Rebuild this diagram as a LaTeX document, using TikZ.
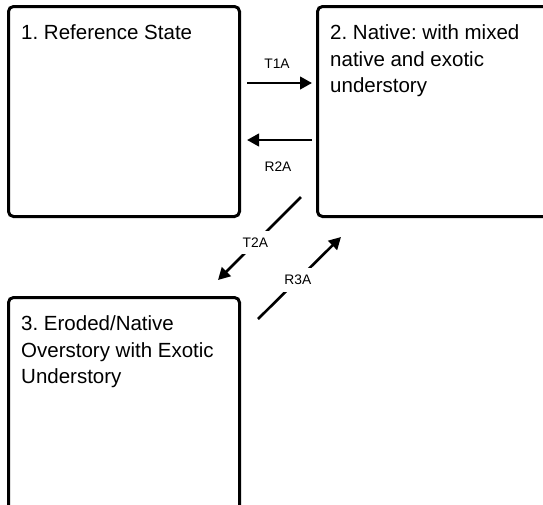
\documentclass[tikz,border=0pt]{standalone}
\usepackage{fontspec}
\setmainfont{Liberation Sans}
\usetikzlibrary{arrows.meta}
\frenchspacing
\begin{document}
\begin{tikzpicture}[x=1pt,y=-1pt,
  statebox/.style={draw=black,line width=3pt,rounded corners=5pt,fill=white,anchor=north west,inner sep=0pt},
  statetext/.style={anchor=north west,align=left,inner sep=0pt,font=\fontsize{20.5}{26.5}\selectfont},
  arr/.style={line width=2.6pt,-{Triangle[length=12pt,width=12.5pt]}},
  lbl/.style={font=\fontsize{13.8}{16}\selectfont,inner sep=0pt},
  gaplbl/.style={lbl,fill=white,inner xsep=4pt,inner ysep=7pt}]
\clip (0,0) rectangle (543,504);
\fill[white] (0,0) rectangle (543,504);
\node[statebox,minimum width=231pt,minimum height=210pt] (s1) at (7,5) {};
\node[statebox,minimum width=236pt,minimum height=210pt] (s2) at (316,5) {};
\node[statebox,minimum width=231pt,minimum height=216pt] (s3) at (7,296) {};
\node[statetext] (t1) at ([xshift=14pt,yshift=-19.5pt]s1.north west) {1. Reference State};
\node[statetext] (t2) at ([xshift=14pt,yshift=-19.5pt]s2.north west) {2. Native: with mixed\\native and exotic\\understory};
\node[statetext] (t3) at ([xshift=14pt,yshift=-19.5pt]s3.north west) {3. Eroded/Native\\Overstory with Exotic\\Understory};
\draw[arr] ([xshift=6pt,yshift=-78pt]s1.north east) -- ([xshift=-4pt,yshift=-78pt]s2.north west);
\node[lbl] (l1) at (277,64) {T1A};
\draw[arr] ([xshift=-4pt,yshift=-135pt]s2.north west) -- ([xshift=6pt,yshift=-135pt]s1.north east);
\node[lbl] (l2) at (278,167) {R2A};
\draw[arr] ([xshift=-15pt,yshift=21pt]s2.south west) -- node[gaplbl,pos=0.55] (l3) {T2A} ([xshift=-23pt,yshift=16pt]s3.north east);
\draw[arr] ([xshift=17pt,yshift=-23pt]s3.north east) -- node[gaplbl,pos=0.48] (l4) {R3A} ([xshift=25pt,yshift=-19pt]s2.south west);
\end{tikzpicture}
\end{document}
